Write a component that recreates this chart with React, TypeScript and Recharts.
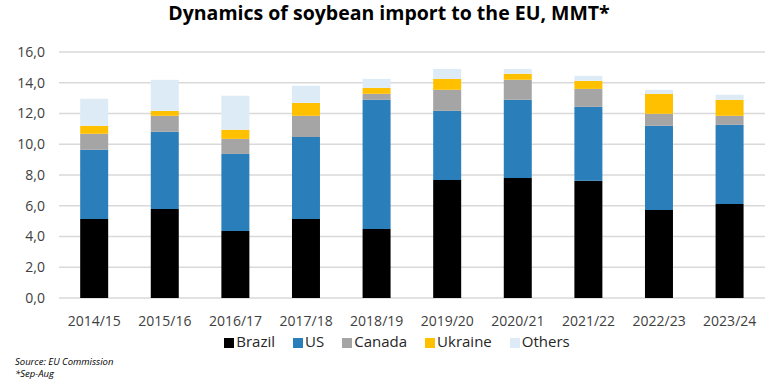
import { BarChart, Bar, XAxis, YAxis, CartesianGrid, Legend } from "recharts";

const SEASONS = ["2014/15", "2015/16", "2016/17", "2017/18", "2018/19", "2019/20", "2020/21", "2021/22", "2022/23", "2023/24"];
const BRAZIL = [5.14, 5.79, 4.36, 5.14, 4.49, 7.68, 7.81, 7.62, 5.73, 6.12];
const US = [4.5, 5.02, 5.01, 5.33, 8.4, 4.49, 5.08, 4.81, 5.47, 5.14];
const CANADA = [1.04, 1.04, 0.98, 1.38, 0.39, 1.37, 1.3, 1.17, 0.78, 0.59];
const UKRAINE = [0.52, 0.32, 0.59, 0.84, 0.39, 0.71, 0.39, 0.52, 1.3, 1.04];
const OTHERS = [1.76, 2.02, 2.21, 1.11, 0.58, 0.65, 0.32, 0.33, 0.26, 0.33];
const Y_TICKS = [0, 2, 4, 6, 8, 10, 12, 14, 16];

const FONT = "'Open Sans', sans-serif";
const GRID = "#d9d9d9";
const TEXT = "#404040";

const SERIES = [
  { key: "Brazil", color: "#000000" },
  { key: "US", color: "#2a7fba" },
  { key: "Canada", color: "#a5a5a5" },
  { key: "Ukraine", color: "#ffc000" },
  { key: "Others", color: "#ddebf7" },
];
const ORDER = SERIES.map((s) => s.key);

const data = SEASONS.map((s, i) => ({
  name: s,
  Brazil: BRAZIL[i],
  US: US[i],
  Canada: CANADA[i],
  Ukraine: UKRAINE[i],
  Others: OTHERS[i],
}));

const fmt = (v: number) => v.toFixed(1).replace(".", ",");

export default function App() {
  return (
    <div style={{ position: "absolute", left: 0, top: 0, width: 768, height: 382, background: "#fff", fontFamily: FONT }}>
      <div
        style={{
          position: "absolute",
          top: -1,
          left: 0,
          width: 778,
          textAlign: "center",
          fontSize: 19.5,
          fontWeight: 700,
          color: "#000",
        }}
      >
        Dynamics of soybean import to the EU, MMT*
      </div>
      <BarChart
        width={768}
        height={382}
        data={data}
        margin={{ top: 52, right: 3, left: 9, bottom: 54 }}
        barCategoryGap="30%"
        style={{ fontFamily: FONT }}
      >
        <CartesianGrid vertical={false} stroke={GRID} strokeWidth={1.3} />
        <XAxis
          dataKey="name"
          axisLine={false}
          tickLine={false}
          tick={{ fontSize: 14, fill: TEXT }}
          tickMargin={12}
          height={30}
          interval={0}
        />
        <YAxis
          ticks={Y_TICKS}
          domain={[0, 16]}
          tickFormatter={fmt}
          axisLine={false}
          tickLine={false}
          tick={{ fontSize: 14, fill: TEXT }}
          tickMargin={8}
          width={50}
        />
        <Legend
          verticalAlign="middle"
          iconType="square"
          iconSize={10}
          itemSorter={(item: any) => ORDER.indexOf(item.value)}
          wrapperStyle={{ top: 331, left: 0, width: 812, fontSize: 15 }}
          formatter={(v) => <span style={{ color: "#262626", marginLeft: -2, marginRight: 8 }}>{v}</span>}
        />
        {SERIES.map((s) => (
          <Bar key={s.key} dataKey={s.key} stackId="a" fill={s.color} isAnimationActive={false} />
        ))}
      </BarChart>
      <div style={{ position: "absolute", left: 15, top: 357, fontSize: 9.5, fontStyle: "italic", color: "#000", lineHeight: "10px" }}>
        Source: EU Commission
      </div>
      <div style={{ position: "absolute", left: 15, top: 369, fontSize: 9.5, fontStyle: "italic", color: "#000", lineHeight: "10px" }}>
        *Sep-Aug
      </div>
    </div>
  );
}
